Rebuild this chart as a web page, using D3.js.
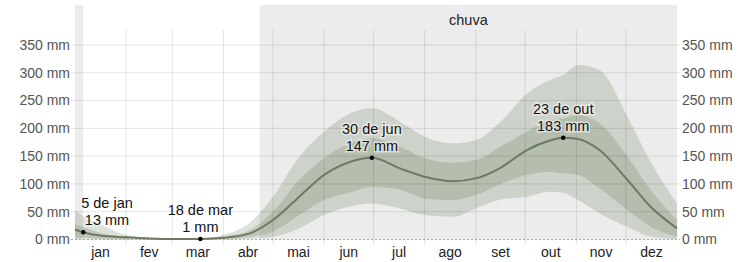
<!DOCTYPE html>
<html><head><meta charset="utf-8">
<script src="https://cdn.jsdelivr.net/npm/d3@7"></script>
<style>
body{margin:0;background:#fff;}
svg{display:block;font-family:"Liberation Sans",Arial,Helvetica,sans-serif;}
</style></head>
<body><svg id="c" width="753" height="262"></svg>
<script>
// ---- data ----
const monthLabels = ["jan","fev","mar","abr","mai","jun","jul","ago","set","out","nov","dez"];
const monthStarts = [0,31,59,90,120,151,181,212,243,273,304,334,365];
const yTicks = [0,50,100,150,200,250,300,350];
const days = [0,5,15,31,45,59,76,90,106,120,136,151,167,180,197,212,229,243,258,274,288,296,305,318,335,349,365];
const p10  = [0,0,0,0,0,0,0,0,1,5,20,44,60,65,56,44,41,56,72,77,86,84,71,47,23,5,1];
const p25  = [4,3,1,0,0,0,0,0,4,14,44,71,85,95,90,74,71,80,100,116,122,119,116,92,53,23,5];
const mean = [18,13,7,4,2,1,1,3,11,35,77,116,140,147,128,113,105,110,129,161,178,183,181,161,107,59,20];
const p75  = [28,22,12,5,2,1,1,5,17,50,107,146,173,182,167,146,138,143,167,194,214,218,224,209,149,89,35];
const p90  = [52,42,28,8,3,2,2,8,30,77,149,194,227,236,212,185,173,179,212,262,287,296,314,305,221,140,65];
const seasonLabel = "chuva";
const seasonRanges = [[0,5],[112,365]];
const annotDays = [5,76,180,296];
const annotDates = ["5 de jan","18 de mar","30 de jun","23 de out"];
const annotVals = [13,1,147,183];

// ---- layout ----
const svg = d3.select("#c");
const L=75, R=677, T=5, B=239.5;
const x = d3.scaleLinear().domain([0,365]).range([L,R]);
const y = d3.scaleLinear().domain([0,350]).range([B,45]);

// season background
svg.selectAll("rect.season").data(seasonRanges).join("rect")
  .attr("x",d=>x(d[0])).attr("width",d=>x(d[1])-x(d[0]))
  .attr("y",T).attr("height",B-T).attr("fill","#ececec");
svg.append("text").attr("x",(x(seasonRanges[1][0])+x(seasonRanges[1][1]))/2).attr("y",25)
  .attr("text-anchor","middle").attr("font-size",14.5).attr("fill","#222").text(seasonLabel);

const pts = days.map((d,i)=>({d,p10:p10[i],p25:p25[i],m:mean[i],p75:p75[i],p90:p90[i]}));
const curve = d3.curveMonotoneX;
const fillC = "rgb(110,130,95)";
svg.append("path").datum(pts)
  .attr("d",d3.area().x(d=>x(d.d)).y0(d=>y(d.p10)).y1(d=>y(d.p90)).curve(curve))
  .attr("fill",fillC).attr("fill-opacity",0.24);
svg.append("path").datum(pts)
  .attr("d",d3.area().x(d=>x(d.d)).y0(d=>y(d.p25)).y1(d=>y(d.p75)).curve(curve))
  .attr("fill",fillC).attr("fill-opacity",0.26);

// grid
svg.selectAll("line.h").data(yTicks.filter(v=>v>0)).join("line")
  .attr("x1",71).attr("x2",680).attr("y1",d=>y(d)).attr("y2",d=>y(d))
  .attr("stroke","#000").attr("stroke-opacity",0.1);
svg.selectAll("line.v").data(monthStarts.slice(1,12)).join("line")
  .attr("x1",d=>x(d)).attr("x2",d=>x(d)).attr("y1",30).attr("y2",245)
  .attr("stroke","#000").attr("stroke-opacity",0.1);
svg.append("line").attr("x1",71).attr("x2",680).attr("y1",y(0)).attr("y2",y(0))
  .attr("stroke","#aaa").attr("stroke-dasharray","2,2");

// mean line
svg.append("path").datum(pts)
  .attr("d",d3.line().x(d=>x(d.d)).y(d=>y(d.m)).curve(curve))
  .attr("fill","none").attr("stroke","rgb(108,122,98)").attr("stroke-width",2);

// axes labels
svg.selectAll("text.yl").data(yTicks).join("text")
  .attr("x",70).attr("y",d=>y(d)).attr("dy","0.35em").attr("text-anchor","end")
  .attr("font-size",14).attr("fill","#555").text(d=>d+" mm");
svg.selectAll("text.yr").data(yTicks).join("text")
  .attr("x",682).attr("y",d=>y(d)).attr("dy","0.35em").attr("text-anchor","start")
  .attr("font-size",14).attr("fill","#555").text(d=>d+" mm");
svg.selectAll("text.m").data(monthLabels).join("text")
  .attr("x",(d,i)=>x((monthStarts[i]+monthStarts[i+1])/2)).attr("y",257)
  .attr("text-anchor","middle").attr("font-size",14).attr("fill","#222").text(d=>d);

// annotations
annotDays.forEach((d,i)=>{
  const cx=x(d), cy=y(annotVals[i]);
  svg.append("circle").attr("cx",cx).attr("cy",cy).attr("r",2.2).attr("fill","#000");
  let tx = Math.max(cx, L+32);
  const g = svg.append("text").attr("text-anchor","middle").attr("font-size",14.5)
    .attr("fill","#111").attr("stroke","#fff").attr("stroke-opacity",0.5)
    .attr("stroke-width",3).attr("paint-order","stroke");
  g.append("tspan").attr("x",tx).attr("y",cy-24).text(annotDates[i]);
  g.append("tspan").attr("x",tx).attr("y",cy-7).text(annotVals[i]+" mm");
});
</script></body></html>
